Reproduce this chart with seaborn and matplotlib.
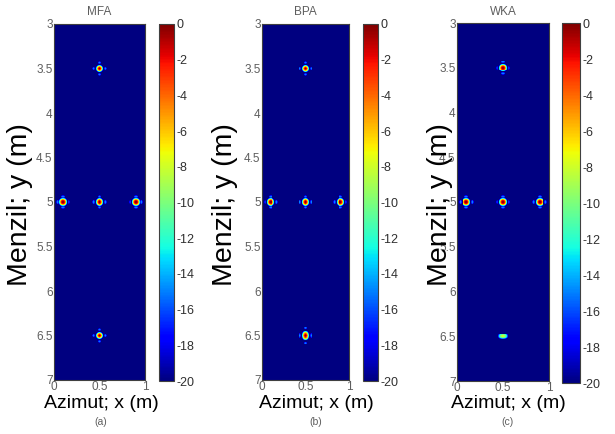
import numpy as np
import pandas as pd
import matplotlib
matplotlib.use("Agg")
import matplotlib.pyplot as plt
import seaborn as sns

sns.set_style("white")
plt.rcParams['font.family'] = ['Liberation Sans', 'DejaVu Sans']

# scene: point targets (metres) and reconstructed peak levels (dB) per method
methods = ["MFA", "BPA", "WKA"]
panel_tags = ["(a)", "(b)", "(c)"]
target_x = [0.5, 0.1, 0.5, 0.9, 0.5]
target_y = [3.5, 5.0, 5.0, 5.0, 6.5]
mfa_peak_db = [0, 0, 0, 0, 0]
bpa_peak_db = [0, 0, 0, 0, 0]
wka_peak_db = [0, 0, 0, 0, -8]
# relative spot width (azimuth, range) per target
mfa_spread = [(1, 1), (1, 1), (1, 1), (1, 1), (1, 1)]
bpa_spread = [(1, 1), (1, 1), (1, 1), (1, 1), (1, 1.3)]
wka_spread = [(1, 1), (1, 1), (1, 1), (1, 1), (1.5, 0.9)]
x_ticks = [0, 0.5, 1]
y_ticks = [3, 3.5, 4, 4.5, 5, 5.5, 6, 6.5, 7]
cbar_ticks = list(range(-20, 1, 2))

peaks = [mfa_peak_db, bpa_peak_db, wka_peak_db]
spreads = [mfa_spread, bpa_spread, wka_spread]

# image grid
x_min, x_max, y_min, y_max = 0.0, 1.0, 3.0, 7.0
nx, ny = 100, 400
res = 0.045
xc = x_min + (np.arange(nx) + 0.5) * (x_max - x_min) / nx
yc = y_min + (np.arange(ny) + 0.5) * (y_max - y_min) / ny
X, Y = np.meshgrid(xc, yc)


def psf(u):
    # sinc response with a soft taper so only the first sidelobe shows
    return np.sinc(u) * np.exp(-(u / 3.5) ** 2)


def make_image(peak_db, spread):
    amp = np.zeros_like(X)
    for tx, ty, p, (sx, sy) in zip(target_x, target_y, peak_db, spread):
        a = 10 ** (p / 20)
        amp += a * psf((X - tx) / (res * sx)) * psf((Y - ty) / (res * sy))
    db = 20 * np.log10(np.abs(amp) + 1e-6)
    return np.clip(db, -20, 0)


W, H = 615, 434
fig = plt.figure(figsize=(W / 100, H / 100), dpi=100)


def px_axes(l, r, t, b):
    return fig.add_axes([l / W, (H - b) / H, (r - l) / W, (b - t) / H])


axes_px = [(54, 145, 24, 380), (262, 349, 24, 380), (457, 549, 23, 381)]
cbar_px = [(159, 174, 24, 381), (363, 378, 24, 381), (562, 580, 23, 383)]
ylabel_x = [20, 225, 440]
xlabel_x = [101, 316, 508]

gray = "#5e5e5e"
for i, m in enumerate(methods):
    ax = px_axes(*axes_px[i])
    cax = px_axes(*cbar_px[i])
    img = pd.DataFrame(make_image(peaks[i], spreads[i]))
    sns.heatmap(img, ax=ax, cmap="jet", vmin=-20, vmax=0, cbar_ax=cax,
                xticklabels=False, yticklabels=False, rasterized=True)
    for s in ax.spines.values():
        s.set_visible(True)
        s.set_color("#404040")
        s.set_linewidth(0.8)
    ax.set_xticks([(v - x_min) / (x_max - x_min) * nx for v in x_ticks])
    ax.set_xticklabels([f"{v:g}" for v in x_ticks])
    ax.set_yticks([(v - y_min) / (y_max - y_min) * ny for v in y_ticks])
    ax.set_yticklabels([f"{v:g}" for v in y_ticks])
    ax.tick_params(direction="in", length=2, width=0.6, color="#404040",
                   labelsize=8.5, labelcolor=gray, pad=1)
    ax.tick_params(axis="y", left=True, labelrotation=0)
    ax.tick_params(axis="x", bottom=True)
    ax.set_xlabel("")
    ax.set_ylabel("")

    cb = ax.collections[0].colorbar
    cb.outline.set_linewidth(0.8)
    cb.outline.set_edgecolor("#404040")
    cb.set_ticks(cbar_ticks)
    cb.set_ticklabels([f"{v}" for v in cbar_ticks])
    cax.tick_params(direction="in", length=3, width=0.6, labelsize=9,
                    labelcolor="#303030", pad=2)

    cx = (axes_px[i][0] + axes_px[i][1]) / 2
    fig.text(cx / W, 1 - 12 / H, m, ha="center", va="center",
             fontsize=8.5, color=gray)
    fig.text(ylabel_x[i] / W, 1 - 205 / H, "Menzil; y (m)", rotation=90,
             ha="center", va="center", fontsize=20.5, color="black")
    fig.text(xlabel_x[i] / W, 1 - 403 / H, "Azimut; x (m)", ha="center",
             va="center", fontsize=14, color="black")
    fig.text(xlabel_x[i] / W, 1 - 422 / H, panel_tags[i], ha="center",
             va="center", fontsize=7.5, color=gray)

fig.savefig("out.png", dpi=100)
